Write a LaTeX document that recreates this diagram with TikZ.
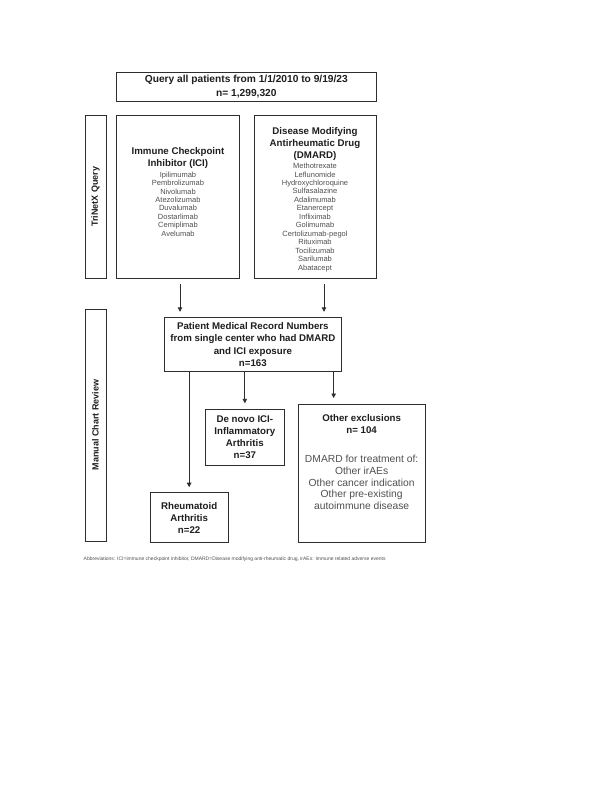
\documentclass[tikz,border=0pt]{standalone}
\usepackage{fontspec}
\setmainfont{Liberation Sans}
\usetikzlibrary{arrows.meta,calc}
\definecolor{ln}{HTML}{2E2E2E}
\definecolor{tx}{HTML}{1E1E1E}
\definecolor{lst}{HTML}{505050}
\begin{document}
\begin{tikzpicture}[x=1pt,y=-1pt,
  box/.style={draw=ln,line width=1pt,inner sep=0pt,align=center,text=tx},
  hd/.style={inner sep=0pt,align=center,text=tx,font=\fontsize{9.7}{12.2}\selectfont\bfseries},
  lst/.style={inner sep=0pt,align=center,text=lst,font=\fontsize{7.5}{8.45}\selectfont},
  body/.style={inner sep=0pt,align=center,text=lst,font=\fontsize{10.3}{11.8}\selectfont},
  side/.style={draw=ln,line width=1pt,inner sep=0pt,rotate=90,minimum height=21pt,text=tx,font=\fontsize{9}{11}\selectfont\bfseries},
  arr/.style={draw=ln,line width=0.9pt,-{Triangle[length=4.5pt,width=4.5pt]}}]
\useasboundingbox (0,0) rectangle (612,792);
\fill[white] (0,0) rectangle (612,792);

% top query box
\node[box,minimum width=259.3pt,minimum height=28.7pt,font=\fontsize{10.2}{13.3}\selectfont\bfseries] (query) at (246.35,86.65)
  {Query all patients from 1/1/2010 to 9/19/23\\n= 1,299,320};

% side bars
\node[side,minimum width=163pt] (tri) at (95.5,196.5) {TriNetX Query};
\node[side,minimum width=232pt] (manual) at (95.5,425) {Manual Chart Review};

% ICI box
\node[box,minimum width=122.6pt,minimum height=163pt] (ici) at (178,196.5) {};
\node[hd,anchor=north] (icihead) at (178,147.4) {Immune Checkpoint\\Inhibitor (ICI)};
\node[lst,anchor=north] (icilist) at (178,171.5) {Ipilimumab\\Pembrolizumab\\Nivolumab\\Atezolizumab\\Duvalumab\\Dostarlimab\\Cemiplimab\\Avelumab};

% DMARD box
\node[box,minimum width=122pt,minimum height=163pt] (dmard) at (315,196.5) {};
\node[hd,anchor=north] (dmhead) at (315,127) {Disease Modifying\\Antirheumatic Drug\\(DMARD)};
\node[lst,anchor=north] (dmlist) at (315,163) {Methotrexate\\Leflunomide\\Hydroxychloroquine\\Sulfasalazine\\Adalimumab\\Etanercept\\Infliximab\\Golimumab\\Certolizumab-pegol\\Rituximab\\Tocilizumab\\Sarilumab\\Abatacept};

% patient box
\node[box,minimum width=177.7pt,minimum height=54.4pt,font=\fontsize{9.7}{12.4}\selectfont\bfseries] (patient) at (252.85,344.5)
  {Patient Medical Record Numbers\\from single center who had DMARD\\and ICI exposure\\n=163};

% outcome boxes
\node[box,minimum width=78.3pt,minimum height=56.4pt,font=\fontsize{9.7}{12}\selectfont\bfseries] (denovo) at (244.85,437.5)
  {De novo ICI-\\Inflammatory\\Arthritis\\n=37};
\node[box,minimum width=78.3pt,minimum height=50pt,font=\fontsize{9.7}{12.2}\selectfont\bfseries] (ra) at (189.15,517.7)
  {Rheumatoid\\Arthritis\\n=22};
\node[box,minimum width=126.7pt,minimum height=138.7pt] (other) at (361.65,473.35) {};
\node[hd,anchor=north] (othhead) at (361.65,413.8) {Other exclusions\\n= 104};
\node[body,anchor=north] (othbody) at (361.65,454.8) {DMARD for treatment of:\\Other irAEs\\Other cancer indication\\Other pre-existing\\autoimmune disease};

% arrows
\draw[arr,shorten <=5pt,shorten >=5pt] ([xshift=2pt]ici.south) -- ([xshift=2pt]ici.south |- patient.north);
\draw[arr,shorten <=5pt,shorten >=5pt] ([xshift=9pt]dmard.south) -- ([xshift=9pt]dmard.south |- patient.north);
\draw[arr,shorten >=5pt] (ra.north |- patient.south) -- (ra.north);
\draw[arr,shorten >=5.5pt] (denovo.north |- patient.south) -- (denovo.north);
\draw[arr,shorten >=5.5pt] ([xshift=-28pt]other.north |- patient.south) -- ([xshift=-28pt]other.north);

% abbreviations
\node[anchor=west,inner sep=0pt,text=lst,font=\fontsize{5}{6}\selectfont] (abbr) at (83.5,559.5)
  {Abbreviations: ICI=immune checkpoint inhibitor, DMARD=Disease modifying anti-rheumatic drug, irAEs: Immune related adverse events};
\end{tikzpicture}
\end{document}
